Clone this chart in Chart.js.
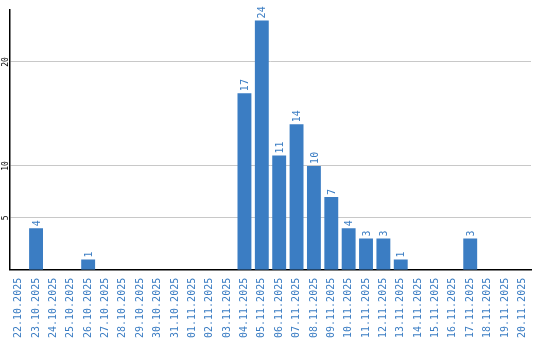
<!DOCTYPE html>
<html>
<head>
<meta charset="utf-8">
<script src="https://cdn.jsdelivr.net/npm/chart.js@4.4.0/dist/chart.umd.min.js"></script>
<style>
    html, body { margin: 0; padding: 0; background: #fff; }
    #wrap { width: 540px; height: 340px; }
</style>
</head>
<body>
<div id="wrap"><canvas id="myChart"></canvas></div>
<script>
const labels = [
    "22.10.2025", "23.10.2025", "24.10.2025", "25.10.2025", "26.10.2025",
    "27.10.2025", "28.10.2025", "29.10.2025", "30.10.2025", "31.10.2025",
    "01.11.2025", "02.11.2025", "03.11.2025", "04.11.2025", "05.11.2025",
    "06.11.2025", "07.11.2025", "08.11.2025", "09.11.2025", "10.11.2025",
    "11.11.2025", "12.11.2025", "13.11.2025", "14.11.2025", "15.11.2025",
    "16.11.2025", "17.11.2025", "18.11.2025", "19.11.2025", "20.11.2025",
];
const values = [
    0, 4, 0, 0, 1, 0, 0, 0, 0, 0,
    0, 0, 0, 17, 24, 11, 14, 10, 7, 4,
    3, 3, 1, 0, 0, 0, 3, 0, 0, 0,
];
const yTicks = [5, 10, 20];

const blue = "#3b7dc3";
const mono = "'DejaVu Sans Mono', 'Liberation Mono', monospace";

// value labels over the bars + rotated y tick labels
const rotatedText = {
    id: "rotatedText",
    afterDatasetsDraw(chart) {
        const ctx = chart.ctx;
        const meta = chart.getDatasetMeta(0);
        ctx.save();
        ctx.fillStyle = blue;
        ctx.font = "10px " + mono;
        ctx.textAlign = "left";
        ctx.textBaseline = "middle";
        meta.data.forEach((bar, i) => {
            const v = values[i];
            if (!v) return;
            ctx.save();
            ctx.translate(bar.x + 1, bar.y - 2);
            ctx.rotate(-Math.PI / 2);
            ctx.fillText(String(v), 0, 0);
            ctx.restore();
        });

        const y = chart.scales.y;
        ctx.fillStyle = "#000";
        ctx.font = "8px " + mono;
        ctx.textAlign = "center";
        yTicks.forEach((v) => {
            ctx.save();
            ctx.translate(y.left - 4, y.getPixelForValue(v));
            ctx.rotate(-Math.PI / 2);
            ctx.fillText(String(v), 0, 0);
            ctx.restore();
        });
        ctx.restore();
    },
};

const config = {
    type: "bar",
    data: {
        labels: labels,
        datasets: [{
            data: values,
            backgroundColor: blue,
            borderWidth: 0,
            barPercentage: 0.8,
            categoryPercentage: 1,
        }],
    },
    options: {
        responsive: false,
        animation: false,
        layout: {
            padding: { top: 10, right: 9, left: 10, bottom: 2 },
        },
        plugins: {
            legend: { display: false },
            tooltip: { enabled: false },
        },
        scales: {
            x: {
                grid: { display: false },
                border: { color: "#000", width: 1.5 },
                ticks: {
                    color: blue,
                    font: { family: mono, size: 10 },
                    minRotation: 90,
                    maxRotation: 90,
                    autoSkip: false,
                    padding: 0,
                },
            },
            y: {
                min: 0,
                max: 25,
                afterBuildTicks: (scale) => {
                    scale.ticks = yTicks.map((v) => ({ value: v }));
                },
                grid: {
                    color: "#c8c8c8",
                    drawTicks: false,
                },
                border: { color: "#000", width: 1.5 },
                ticks: { display: false },
            },
        },
    },
    plugins: [rotatedText],
};

const canvas = document.getElementById("myChart");
canvas.width = 540;
canvas.height = 340;
const myChart = new Chart(canvas, config);
</script>
</body>
</html>
